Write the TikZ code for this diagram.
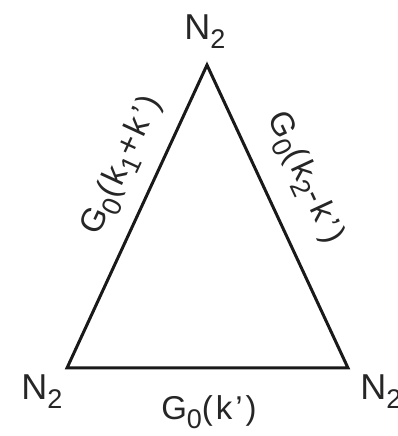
\documentclass[tikz,border=0pt]{standalone}
\usepackage{fontspec}
\setmainfont{Liberation Sans}
\newcommand\lowsub[1]{\raisebox{-9pt}{\fontsize{27}{27}\selectfont #1}}
\begin{document}
\begin{tikzpicture}[x=1pt,y=1pt,
  edge/.style={line width=3pt, draw=black!90, line join=miter},
  vlabel/.style={font=\fontsize{36}{36}\selectfont, text=black!85, inner sep=0pt},
  elabel/.style={font=\fontsize{33}{33}\selectfont\addfontfeatures{LetterSpace=9}, text=black!85, inner sep=0pt}]
\useasboundingbox[fill=white] (0,0) rectangle (398,436);
\coordinate (t) at (207,371);
\coordinate (l) at (67,68);
\coordinate (r) at (348,68);
\draw[edge] (l) -- (t) -- (r) -- cycle;
\node[vlabel] (nt) at (205,404) {N\lowsub{2}};
\node[vlabel] (nl) at (42,44) {N\lowsub{2}};
\node[vlabel] (nr) at (381,44) {N\lowsub{2}};
\path (l) -- (t) node[elabel, pos=0.62, sloped, yshift=34pt] (el) {G\lowsub{0}(k\lowsub{1}+k’)};
\path (t) -- (r) node[elabel, pos=0.43, sloped, yshift=40pt] (er) {G\lowsub{0}(k\lowsub{2}-k’)};
\node[elabel] (eb) at (209,24) {G\lowsub{0}(k’)};
\end{tikzpicture}
\end{document}
